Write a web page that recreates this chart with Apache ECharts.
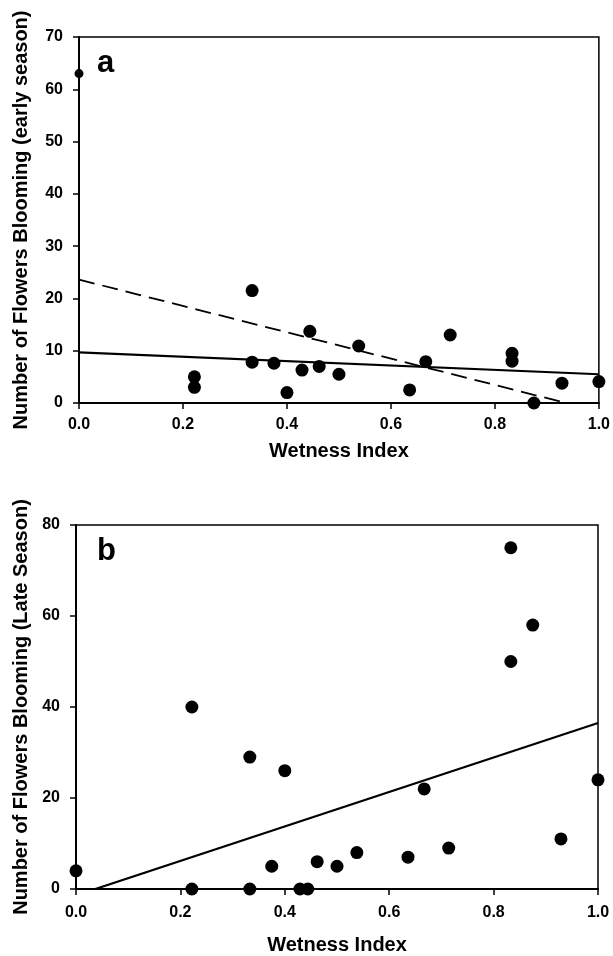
<!DOCTYPE html>
<html>
<head>
<meta charset="utf-8">
<script src="https://cdn.jsdelivr.net/npm/echarts@6/dist/echarts.min.js"></script>
<style>
  html, body { margin: 0; padding: 0; background: #fff; }
  #chart { width: 613px; height: 956px; }
</style>
</head>
<body>
<div id="chart"></div>
<script>
// panel a: early season
var wetA = [0, 0.222, 0.222, 0.333, 0.333, 0.375, 0.4, 0.429, 0.444, 0.462, 0.5, 0.538, 0.636, 0.667, 0.714, 0.833, 0.833, 0.875, 0.929, 1.0];
var flowersEarly = [63, 5, 3, 21.5, 7.8, 7.6, 2, 6.3, 13.7, 7, 5.5, 10.9, 2.5, 7.9, 13, 9.5, 8, 0, 3.8, 4.1];
// fitted lines (end points)
var fitAllX = [0, 1.0];
var fitAllY = [9.7, 5.5];
var fitDashX = [0, 0.925];
var fitDashY = [23.6, 0.3];

// panel b: late season
var wetB = [0, 0.222, 0.222, 0.333, 0.333, 0.375, 0.4, 0.429, 0.444, 0.462, 0.5, 0.538, 0.636, 0.667, 0.714, 0.833, 0.833, 0.875, 0.929, 1.0];
var flowersLate = [4, 40, 0, 29, 0, 5, 26, 0, 0, 6, 5, 8, 7, 22, 9, 75, 50, 58, 11, 24];
var fitLateX = [0.037, 1.0];
var fitLateY = [0, 36.5];

function pairs(xs, ys) {
  return xs.map(function (x, i) { return [x, ys[i]]; });
}

var font = '"Liberation Sans", Arial, sans-serif';
var black = '#000';

function xAxisFor(gridIndex, labelMargin, nameGap) {
  return {
    gridIndex: gridIndex,
    type: 'value',
    min: 0, max: 1, interval: 0.2,
    name: 'Wetness Index',
    nameLocation: 'middle',
    nameGap: nameGap,
    nameTextStyle: { fontFamily: font, fontWeight: 'bold', fontSize: 20, color: black },
    axisLine: { show: true, onZero: false, lineStyle: { color: black, width: 2 } },
    axisTick: { show: true, inside: false, length: 6, lineStyle: { color: black, width: 1.5 } },
    axisLabel: {
      margin: labelMargin,
      fontFamily: font, fontWeight: 'bold', fontSize: 16, color: black,
      formatter: function (v) { return v.toFixed(1); }
    },
    splitLine: { show: false }
  };
}

function yAxisFor(gridIndex, max, interval, name, nameGap) {
  return {
    gridIndex: gridIndex,
    type: 'value',
    min: 0, max: max, interval: interval,
    name: name,
    nameLocation: 'middle',
    nameGap: nameGap,
    nameTextStyle: { fontFamily: font, fontWeight: 'bold', fontSize: 20, color: black },
    axisLine: { show: true, onZero: false, lineStyle: { color: black, width: 2 } },
    axisTick: { show: true, inside: false, length: 6, lineStyle: { color: black, width: 1.5 } },
    axisLabel: { margin: 16, fontFamily: font, fontWeight: 'bold', fontSize: 16, color: black },
    splitLine: { show: false }
  };
}

var earlyPts = pairs(wetA, flowersEarly).map(function (p) {
  // the point sitting on the y axis is drawn smaller in the original
  return p[0] === 0 ? { value: p, symbolSize: 9 } : p;
});

var chart = echarts.init(document.getElementById('chart'));
chart.setOption({
  animation: false,
  backgroundColor: '#fff',
  grid: [
    { left: 79, top: 37, width: 523, height: 366, show: true, borderColor: black, borderWidth: 1.5 },
    { left: 76, top: 525, width: 522, height: 367, show: true, borderColor: black, borderWidth: 1.5 }
  ],
  xAxis: [xAxisFor(0, 14, 38), xAxisFor(1, 16, 46)],
  yAxis: [
    yAxisFor(0, 70, 10, 'Number of Flowers Blooming (early season)', 48),
    yAxisFor(1, 80, 20, 'Number of Flowers Blooming (Late Season)', 42)
  ],
  graphic: [
    { type: 'text', left: 97, top: 48, style: { text: 'a', font: 'bold 31px ' + font, fill: black } },
    { type: 'text', left: 97, top: 536, style: { text: 'b', font: 'bold 31px ' + font, fill: black } }
  ],
  series: [
    {
      type: 'line', xAxisIndex: 0, yAxisIndex: 0,
      data: pairs(fitAllX, fitAllY), symbol: 'none', silent: true,
      lineStyle: { color: black, width: 2.2 }
    },
    {
      type: 'line', xAxisIndex: 0, yAxisIndex: 0,
      data: pairs(fitDashX, fitDashY), symbol: 'none', silent: true,
      lineStyle: { color: black, width: 1.8, type: [16, 8] }
    },
    {
      type: 'scatter', xAxisIndex: 0, yAxisIndex: 0,
      data: earlyPts, symbolSize: 13, clip: false,
      itemStyle: { color: black, opacity: 1 }
    },
    {
      type: 'line', xAxisIndex: 1, yAxisIndex: 1,
      data: pairs(fitLateX, fitLateY), symbol: 'none', silent: true,
      lineStyle: { color: black, width: 2.2 }
    },
    {
      type: 'scatter', xAxisIndex: 1, yAxisIndex: 1,
      data: pairs(wetB, flowersLate), symbolSize: 13, clip: false,
      itemStyle: { color: black, opacity: 1 }
    }
  ]
});
</script>
</body>
</html>
